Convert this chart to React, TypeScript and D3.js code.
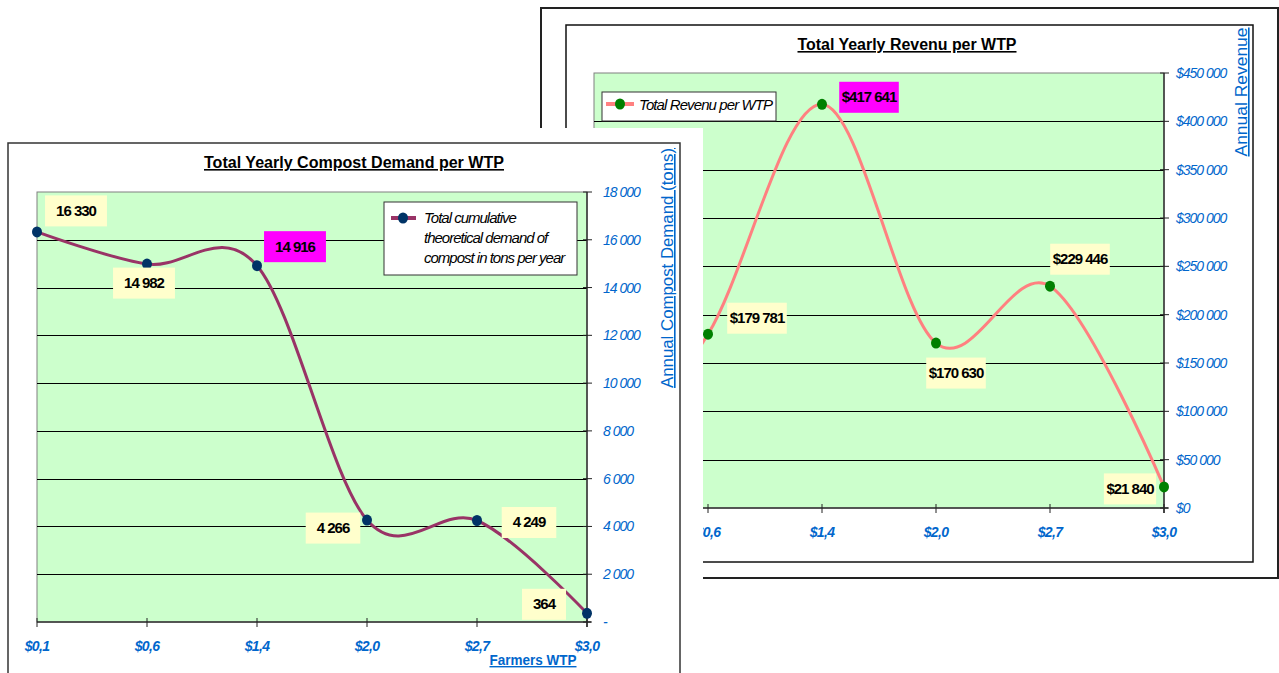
import React, { useEffect, useRef } from 'react'
import * as d3 from 'd3'

// farmers' willingness to pay (x categories)
const categories = ['$0,1', '$0,6', '$1,4', '$2,0', '$2,7', '$3,0']
// tons of compost per year
const demandValues = [16330, 14982, 14916, 4266, 4249, 364]
// yearly revenue per WTP
const revenueValues = [32660, 179781, 417641, 170630, 229446, 21840]
const demandTicks = [0, 2000, 4000, 6000, 8000, 10000, 12000, 14000, 16000, 18000]
const revenueTicks = [0, 50000, 100000, 150000, 200000, 250000, 300000, 350000, 400000, 450000]
const highlightIndex = 2

// label box offsets from their points (layout only); null = label hidden behind front chart
const demandLabelOffsets = [[39, -21], [-3, 19], [38, -19], [-34, 8], [52, 2], [-43, -9]]
const revenueLabelOffsets = [null, [49, -16], [47, -7], [20, 30], [30, -27], [-34, 2]]

const FONT = '"Liberation Sans", Arial, sans-serif'
const BLUE = '#0066cc'

const loc = d3.formatLocale({ decimal: ',', thousands: ' ', grouping: [3], currency: ['$', ''] })
const fmtNum = loc.format(',')
const fmtMoney = loc.format('$,')

const drawPanel = (g, p) => {
  const max = d3.max(p.ticks)
  const x = d3.scalePoint().domain(categories).range([p.left, p.right])
  const y = d3.scaleLinear().domain([0, max]).range([p.bottom, p.top])

  g.append('rect')
    .attr('x', p.left)
    .attr('y', p.top)
    .attr('width', p.right - p.left)
    .attr('height', p.bottom - p.top)
    .attr('fill', '#ccffcc')
    .attr('stroke', '#808080')

  // gridlines
  g.selectAll('line.grid')
    .data(p.ticks.filter((t) => t > 0 && t < max))
    .join('line')
    .attr('x1', p.left)
    .attr('x2', p.right)
    .attr('y1', (d) => Math.round(y(d)) + 0.5)
    .attr('y2', (d) => Math.round(y(d)) + 0.5)
    .attr('stroke', '#000')

  // axes
  g.append('line').attr('x1', p.left).attr('x2', p.right + 4).attr('y1', p.bottom).attr('y2', p.bottom).attr('stroke', '#333').attr('stroke-width', 1.5)
  g.append('line').attr('x1', p.right).attr('x2', p.right).attr('y1', p.top).attr('y2', p.bottom + 5).attr('stroke', '#333').attr('stroke-width', 1.5)

  g.selectAll('line.xt')
    .data(categories)
    .join('line')
    .attr('x1', (d) => x(d))
    .attr('x2', (d) => x(d))
    .attr('y1', p.bottom - 4)
    .attr('y2', p.bottom + 5)
    .attr('stroke', '#222')

  g.selectAll('line.yt')
    .data(p.ticks)
    .join('line')
    .attr('x1', p.right - 4)
    .attr('x2', p.right + 5)
    .attr('y1', (d) => y(d))
    .attr('y2', (d) => y(d))
    .attr('stroke', '#222')

  g.selectAll('text.yl')
    .data(p.ticks)
    .join('text')
    .attr('x', p.right + p.tickGap)
    .attr('y', (d) => y(d) + 5)
    .attr('fill', BLUE)
    .attr('font-style', 'italic')
    .attr('font-size', 14)
    .attr('letter-spacing', -1)
    .text(p.tickFmt)

  g.selectAll('text.xl')
    .data(categories)
    .join('text')
    .attr('x', (d) => x(d))
    .attr('y', p.bottom + 29)
    .attr('text-anchor', 'middle')
    .attr('fill', BLUE)
    .attr('font-style', 'italic')
    .attr('font-weight', 'bold')
    .attr('font-size', 14)
    .attr('letter-spacing', -0.7)
    .text((d) => d)

  const line = d3
    .line()
    .x((d, i) => x(categories[i]))
    .y((d) => y(d))
    .curve(d3.curveCardinal.tension(0))

  g.append('path')
    .datum(p.values)
    .attr('d', line)
    .attr('fill', 'none')
    .attr('stroke', p.line)
    .attr('stroke-width', 3)

  g.selectAll('ellipse.pt')
    .data(p.values)
    .join('ellipse')
    .attr('cx', (d, i) => x(categories[i]))
    .attr('cy', (d) => y(d))
    .attr('rx', 5)
    .attr('ry', 5.5)
    .attr('fill', p.marker)

  // data labels
  p.values.forEach((v, i) => {
    const off = p.offsets[i]
    if (!off) return
    const cx = x(categories[i]) + off[0]
    const cy = y(v) + off[1]
    const box = g.append('rect')
    const t = g
      .append('text')
      .attr('x', cx)
      .attr('y', cy + 5)
      .attr('text-anchor', 'middle')
      .attr('font-weight', 'bold')
      .attr('font-size', 15)
      .attr('letter-spacing', -1)
      .attr('fill', '#000')
      .text(p.labelFmt(v))
    const w = t.node().getComputedTextLength() + p.labelPad
    box
      .attr('x', cx - w / 2)
      .attr('y', cy - 15.5)
      .attr('width', w)
      .attr('height', 31)
      .attr('fill', i === highlightIndex ? '#ff00ff' : '#ffffcc')
  })
}

const App = () => {
  const ref = useRef()

  useEffect(() => {
    const svg = d3.select(ref.current)
    svg.selectAll('*').remove()
    svg.attr('font-family', FONT)

    // ---- back chart: revenue ----
    const back = svg.append('g')
    back.append('rect').attr('x', 541).attr('y', 8).attr('width', 737).attr('height', 570).attr('fill', '#fff').attr('stroke', '#222').attr('stroke-width', 2)
    back.append('rect').attr('x', 566).attr('y', 25).attr('width', 687).attr('height', 537).attr('fill', '#fff').attr('stroke', '#111').attr('stroke-width', 1.5)

    back.append('text')
      .attr('x', 907).attr('y', 50)
      .attr('text-anchor', 'middle')
      .attr('font-weight', 'bold').attr('font-size', 16)
      .attr('text-decoration', 'underline')
      .attr('textLength', 219).attr('lengthAdjust', 'spacingAndGlyphs')
      .text('Total Yearly Revenu per WTP')

    drawPanel(back, {
      left: 594, right: 1164, top: 73, bottom: 508,
      values: revenueValues, ticks: revenueTicks,
      tickFmt: (d) => fmtMoney(d), tickGap: 12,
      labelFmt: (d) => fmtMoney(d), offsets: revenueLabelOffsets, labelPad: 5,
      line: '#ff8080', marker: '#008000'
    })

    back.append('text')
      .attr('transform', 'translate(1247,92) rotate(-90)')
      .attr('text-anchor', 'middle')
      .attr('fill', BLUE).attr('font-size', 16)
      .attr('text-decoration', 'underline')
      .attr('textLength', 129).attr('lengthAdjust', 'spacingAndGlyphs')
      .text('Annual Revenue')

    // revenue legend
    const lg2 = back.append('g')
    lg2.append('rect').attr('x', 602).attr('y', 92).attr('width', 174).attr('height', 29).attr('fill', '#fff').attr('stroke', '#333')
    lg2.append('line').attr('x1', 606).attr('x2', 634).attr('y1', 104).attr('y2', 104).attr('stroke', '#ff8080').attr('stroke-width', 4)
    lg2.append('ellipse').attr('cx', 620).attr('cy', 104).attr('rx', 5).attr('ry', 5.5).attr('fill', '#008000')
    lg2.append('text')
      .attr('x', 639).attr('y', 110)
      .attr('font-style', 'italic').attr('font-size', 15).attr('letter-spacing', -0.9)
      .text('Total Revenu per WTP')

    // ---- front chart: compost demand ----
    const front = svg.append('g')
    front.append('rect').attr('x', 0).attr('y', 128).attr('width', 703).attr('height', 545).attr('fill', '#fff')
    front.append('rect').attr('x', 8).attr('y', 143).attr('width', 672).attr('height', 540).attr('fill', '#fff').attr('stroke', '#333').attr('stroke-width', 1.5)

    front.append('text')
      .attr('x', 354).attr('y', 168)
      .attr('text-anchor', 'middle')
      .attr('font-weight', 'bold').attr('font-size', 16)
      .attr('text-decoration', 'underline')
      .attr('textLength', 300).attr('lengthAdjust', 'spacingAndGlyphs')
      .text('Total Yearly Compost Demand per WTP')

    drawPanel(front, {
      left: 37, right: 587, top: 192, bottom: 622,
      values: demandValues, ticks: demandTicks,
      tickFmt: (d) => (d === 0 ? '-' : fmtNum(d)), tickGap: 16,
      labelFmt: (d) => fmtNum(d), offsets: demandLabelOffsets, labelPad: 22,
      line: '#993366', marker: '#003366'
    })

    front.append('text')
      .attr('transform', 'translate(673,268) rotate(-90)')
      .attr('text-anchor', 'middle')
      .attr('fill', BLUE).attr('font-size', 16)
      .attr('text-decoration', 'underline')
      .attr('textLength', 240).attr('lengthAdjust', 'spacingAndGlyphs')
      .text('Annual Compost Demand (tons)')

    front.append('text')
      .attr('x', 533).attr('y', 665)
      .attr('text-anchor', 'middle')
      .attr('fill', BLUE).attr('font-size', 14).attr('font-weight', 'bold')
      .attr('text-decoration', 'underline')
      .attr('textLength', 87).attr('lengthAdjust', 'spacingAndGlyphs')
      .text('Farmers WTP')

    // demand legend
    const lg1 = front.append('g')
    lg1.append('rect').attr('x', 384).attr('y', 202).attr('width', 193).attr('height', 73).attr('fill', '#fff').attr('stroke', '#333')
    lg1.append('line').attr('x1', 391).attr('x2', 416).attr('y1', 218).attr('y2', 218).attr('stroke', '#993366').attr('stroke-width', 4)
    lg1.append('ellipse').attr('cx', 403).attr('cy', 218).attr('rx', 5).attr('ry', 5.5).attr('fill', '#003366')
    lg1.selectAll('text')
      .data(['Total cumulative', 'theoretical demand of', 'compost in tons per year'])
      .join('text')
      .attr('x', 424)
      .attr('y', (d, i) => 223 + i * 20)
      .attr('font-style', 'italic').attr('font-size', 15).attr('letter-spacing', -1)
      .text((d) => d)
  }, [])

  return <svg ref={ref} width={1279} height={673} style={{ position: 'absolute', left: 0, top: 0, background: '#fff' }}></svg>
}

export default App
